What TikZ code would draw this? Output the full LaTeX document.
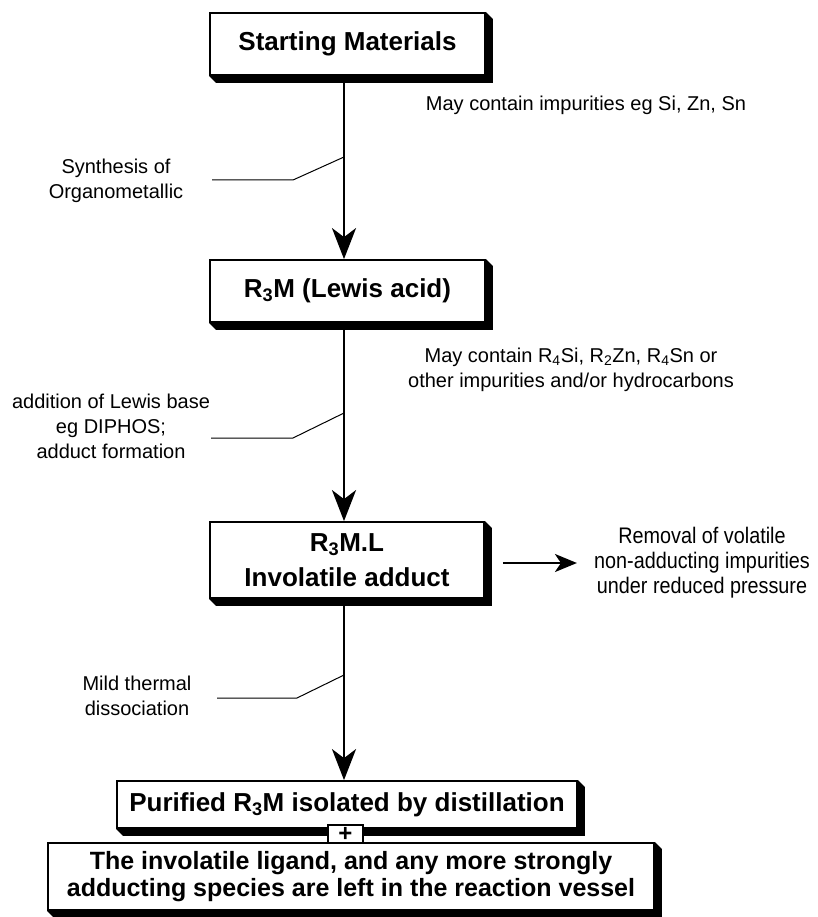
\documentclass[tikz,border=0pt]{standalone}
\usepackage{fontspec}
\setmainfont{Liberation Sans}
\newfontfamily\narrowfont[FakeStretch=0.88]{Liberation Sans}
\usetikzlibrary{arrows.meta,calc}
\newcommand\shadeblock[2]{%
  \fill[black] (#1.north east) -- ($(#1.north east)+(#2,#2)$) -- ($(#1.south east)+(#2,#2)$)
    -- ($(#1.south west)+(#2,#2)$) -- (#1.south west) -- (#1.south east) -- cycle;}
\begin{document}
\begin{tikzpicture}[x=1pt,y=-1pt,
  box/.style={draw=black, line width=1.8pt, fill=white, inner sep=0pt, align=center,
    font=\fontsize{26}{35}\selectfont\bfseries},
  lab/.style={align=center, inner sep=0pt, font=\fontsize{20}{25}\selectfont},
  narrowlab/.style={align=center, inner sep=0pt, font=\narrowfont\fontsize{22.5}{25}\selectfont},
  flow/.style={line width=2.5pt, -{Stealth[length=31pt,width=24pt,inset=9pt]}},
  side/.style={line width=2.2pt, -{Stealth[length=22pt,width=18pt,inset=6pt]}},
  leader/.style={line width=1pt}]
\useasboundingbox (0,0) rectangle (818,917);
\coordinate (mx) at (344,0);

% boxes
\node[box, minimum width=275pt, minimum height=62pt] (b1) at (347.5,44) {Starting Materials};
\shadeblock{b1}{7}
\node[box, minimum width=275pt, minimum height=62pt] (b2) at (347.5,291) {R\textsubscript{3}M (Lewis acid)};
\shadeblock{b2}{7}
\node[box, minimum width=274pt, minimum height=76pt] (b3) at (347,560) {R\textsubscript{3}M.L\\Involatile adduct};
\shadeblock{b3}{7}
\node[box, minimum width=460pt, minimum height=47pt] (b4) at (347,804.5) {Purified R\textsubscript{3}M isolated by distillation};
\shadeblock{b4}{7}
\node[box, minimum width=606pt, minimum height=67pt, font=\fontsize{25}{27}\selectfont\bfseries] (b5) at (351,876.5)
  {The involatile ligand, and any more strongly\\adducting species are left in the reaction vessel};
\shadeblock{b5}{7}
\node[box, minimum width=35pt, minimum height=18pt, font=\fontsize{24}{24}\selectfont\bfseries] (plus) at (345.5,834) {+};

% main flow arrows
\draw[flow] (b1.south -| mx) -- (b2.north -| mx);
\draw[flow] (b2.south -| mx) -- (b3.north -| mx);
\draw[flow] (b3.south -| mx) -- (b4.north -| mx);

% left labels with leaders
\node[lab] (l1) at (116,180.5) {Synthesis of\\Organometallic};
\coordinate (l1a) at (212,180);
\coordinate (l1b) at (293,180);
\coordinate (l1c) at (344,157);
\draw[leader] (l1a) -- (l1b) -- (l1c);

\node[lab] (l2) at (111,426) {addition of Lewis base\\eg DIPHOS;\\adduct formation};
\coordinate (l2a) at (211,438);
\coordinate (l2b) at (293,438);
\coordinate (l2c) at (344,413);
\draw[leader] (l2a) -- (l2b) -- (l2c);

\node[lab] (l3) at (137,695.5) {Mild thermal\\dissociation};
\coordinate (l3a) at (217,698);
\coordinate (l3b) at (297,698);
\coordinate (l3c) at (344,675);
\draw[leader] (l3a) -- (l3b) -- (l3c);

% right labels
\node[lab] (r1) at (586,105) {May contain impurities eg Si, Zn, Sn};
\node[lab] (r2) at (571,370) {May contain R\textsubscript{4}Si, R\textsubscript{2}Zn, R\textsubscript{4}Sn or\\other impurities and/or hydrocarbons};
\node[narrowlab] (r3) at (702,563) {Removal of volatile\\non-adducting impurities\\under reduced pressure};
\draw[side] ([xshift=18pt,yshift=-3pt]b3.east) -- ([xshift=-17pt]r3.west);
\end{tikzpicture}
\end{document}
